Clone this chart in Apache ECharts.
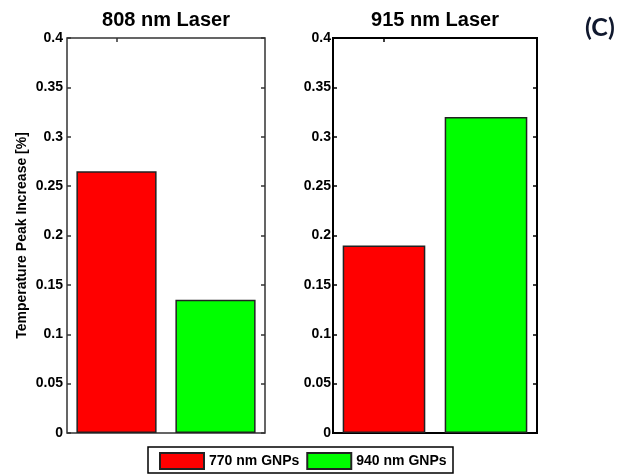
<!DOCTYPE html>
<html>
<head>
<meta charset="utf-8">
<script src="https://cdn.jsdelivr.net/npm/echarts@6/dist/echarts.min.js"></script>
<style>
html,body{margin:0;padding:0;background:#fff;}
#c{width:624px;height:475px;}
</style>
</head>
<body>
<div id="c"></div>
<script>
const panelTitles = ['808 nm Laser', '915 nm Laser'];
const gnpNames = ['770 nm GNPs', '940 nm GNPs'];
const rise808 = [0.265, 0.135];
const rise915 = [0.19, 0.32];
const yMin = 0, yMax = 0.4, yStep = 0.05;
const yAxisName = 'Temperature Peak Increase [%]';
const panelLabel = '(C)';
const gnpColors = ['#ff0000', '#00ff00'];

const FONT = 'Liberation Sans, Arial, sans-serif';
const chart = echarts.init(document.getElementById('c'), null, {renderer: 'canvas'});

const grids = [
  {left: 67, right: 359, top: 38, bottom: 42, show: true, borderColor: '#333', borderWidth: 1.5, backgroundColor: '#fff'},
  {left: 333, right: 87, top: 38, bottom: 42, show: true, borderColor: '#000', borderWidth: 2, backgroundColor: '#fff'}
];

const xAxes = [], yAxes = [], series = [];
const panelData = [rise808, rise915];
grids.forEach((g, gi) => {
  const col = gi === 0 ? '#333' : '#000';
  xAxes.push({type: 'category', gridIndex: gi, data: gnpNames, position: 'top',
    axisLine: {show: false, onZero: false}, axisLabel: {show: false},
    axisTick: {show: true, inside: true, alignWithLabel: true, length: 4,
      interval: (i) => i === 0, lineStyle: {color: col, width: 1.5}}});
  yAxes.push({type: 'value', gridIndex: gi, min: yMin, max: yMax, interval: yStep, position: 'left',
    name: gi === 0 ? yAxisName : '', nameLocation: 'middle', nameGap: 38,
    nameTextStyle: {fontFamily: FONT, fontSize: 14, fontWeight: 'bold', color: '#000'},
    splitLine: {show: false}, axisLine: {show: false},
    axisTick: {show: true, inside: true, length: 4, lineStyle: {color: col, width: 1.5}},
    axisLabel: {fontFamily: FONT, fontSize: 14, fontWeight: 'bold', color: '#000', margin: gi === 0 ? 4 : 2}});
  yAxes.push({type: 'value', gridIndex: gi, min: yMin, max: yMax, interval: yStep, position: 'right',
    splitLine: {show: false}, axisLine: {show: false}, axisLabel: {show: false},
    axisTick: {show: true, inside: true, length: 4, lineStyle: {color: col, width: 1.5}}});
  gnpNames.forEach((name, si) => {
    const vals = panelData[gi];
    series.push({
      type: 'bar', name: name, xAxisIndex: gi, yAxisIndex: gi * 2,
      data: gnpNames.map((_, k) => k === si ? vals[k] : null),
      barWidth: '81%', barGap: '-100%',
      itemStyle: {color: gnpColors[si], borderColor: '#222', borderWidth: 1.5},
      emphasis: {disabled: true}, animation: false
    });
  });
});

const option = {
  animation: false,
  backgroundColor: '#fff',
  grid: grids,
  xAxis: xAxes,
  yAxis: yAxes,
  series: series,
  legend: {
    data: gnpNames, left: 159, top: 452, itemWidth: 44, itemHeight: 16, itemGap: 7,
    icon: 'rect', padding: 0,
    textStyle: {fontFamily: FONT, fontSize: 14, fontWeight: 'bold', color: '#000'},
    selectedMode: false
  },
  graphic: [
    {type: 'rect', shape: {x: 148, y: 447, width: 305, height: 26}, style: {fill: 'none', stroke: '#000', lineWidth: 1.5}, z: 100},
    {type: 'text', x: 166, y: 10, style: {text: panelTitles[0], textAlign: 'center', textVerticalAlign: 'top', font: 'bold 20px ' + FONT, fill: '#000'}},
    {type: 'text', x: 435, y: 10, style: {text: panelTitles[1], textAlign: 'center', textVerticalAlign: 'top', font: 'bold 20px ' + FONT, fill: '#000'}},
    {type: 'text', x: 585, y: 15, style: {text: panelLabel, textAlign: 'left', textVerticalAlign: 'top', font: 'bold 25px Lato, sans-serif', fill: '#10182e'}}
  ]
};
chart.setOption(option);
</script>
</body>
</html>
